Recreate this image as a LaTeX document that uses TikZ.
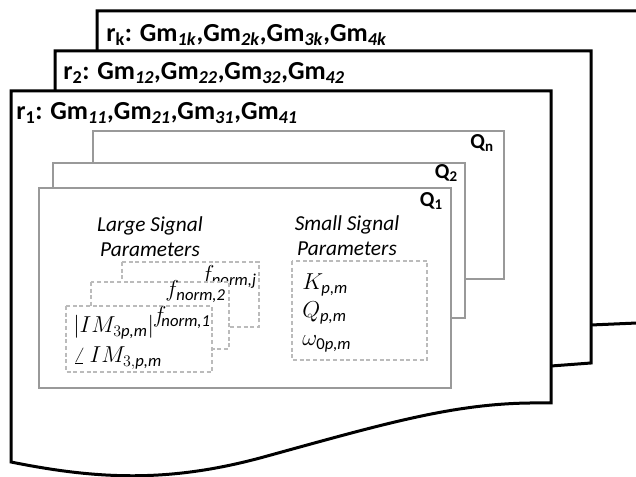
\documentclass[tikz,border=0pt]{standalone}
\usepackage{amsmath}
\usepackage{fontspec}
\setmainfont{Carlito}
\DeclareMathSizes{17}{17}{12.5}{10}
\definecolor{qgray}{HTML}{999999}
\definecolor{dgray}{HTML}{BBBBBB}
\begin{document}
\begin{tikzpicture}[x=0.75pt,y=-0.75pt,
  page/.style={draw=black,line width=2.25pt,fill=white,line join=miter},
  qbox/.style={draw=qgray,line width=1.5pt,fill=white},
  dbox/.style={draw=dgray,line width=1.1pt,fill=white,dash pattern=on 3pt off 2pt},
  title/.style={anchor=west,inner sep=0pt,font=\bfseries\fontsize{19.5}{22}\selectfont},
  qlabel/.style={anchor=north east,inner sep=0pt,font=\bfseries\fontsize{16}{19}\selectfont},
  head/.style={align=center,inner sep=0pt,font=\itshape\fontsize{16}{18.75}\selectfont},
  mathtxt/.style={inner sep=0pt,font=\fontsize{17}{20}\selectfont}]
\clip (0,0) rectangle (636,477);
\useasboundingbox (0,0) rectangle (636,477);

% stacked pages, back to front
\draw[page] (97,11) -- (660,11) -- (660,322) -- (591,325) -- (97,325) -- cycle;
\draw[page] (55,51) -- (591,51) -- (591,363) -- (551,366) -- (55,366) -- cycle;
\draw[page] (11,91) -- (551,91) -- (551,403) -- (530,403)
  .. controls (450,404) and (380,425) .. (260,458)
  .. controls (170,482) and (100,480) .. (11,462) -- cycle;

\node[title] (tk) at (106,35) {r\textsubscript{k}: Gm\textsubscript{\textit{1k}},Gm\textsubscript{\textit{2k}},Gm\textsubscript{\textit{3k}},Gm\textsubscript{\textit{4k}}};
\node[title] (t2) at (63,73) {r\textsubscript{2}: Gm\textsubscript{\textit{12}},Gm\textsubscript{\textit{22}},Gm\textsubscript{\textit{32}},Gm\textsubscript{\textit{42}}};
\node[title] (t1) at (16,113) {r\textsubscript{1}: Gm\textsubscript{\textit{11}},Gm\textsubscript{\textit{21}},Gm\textsubscript{\textit{31}},Gm\textsubscript{\textit{41}}};

% operating points
\draw[qbox] (93,131) rectangle (504,279);
\node[qlabel] (qn) at (494,134) {Q\textsubscript{n}};
\draw[qbox] (53,163) rectangle (465,318);
\node[qlabel] (q2) at (458,164) {Q\textsubscript{2}};
\draw[qbox] (39,188) rectangle (451,388);
\node[qlabel] (q1) at (443,192) {Q\textsubscript{1}};

% large signal parameters
\node[head] (ls) at (150,237) {Large Signal\\Parameters};
\draw[dbox] (122,262) rectangle (259,327);
\node[mathtxt,anchor=base east] (fj) at (257,282) {$f_{\textit{norm,j}}$};
\draw[dbox] (91,282) rectangle (229,349);
\node[mathtxt,anchor=base east] (f2) at (226,297) {$f_{\textit{norm,2}}$};
\draw[dbox] (66,306) rectangle (212,372);
\node[mathtxt,anchor=base east] (f1) at (211,323) {$f_{\!\textit{norm,1}}$};
\node[mathtxt,anchor=base west] (mag) at (73,333) {$|IM_{3\textit{p,m}}|$};
\node[mathtxt,anchor=base west] (ph) at (73,363) {$\angle\,IM_{3,\textit{p,m}}$};

% small signal parameters
\node[head] (ss) at (347,236) {Small Signal\\Parameters};
\draw[dbox] (292,261) rectangle (427,360);
\node[mathtxt,anchor=base west] (k) at (302,290) {$K_{\textit{p,m}}$};
\node[mathtxt,anchor=base west] (q) at (302,318) {$Q_{\textit{p,m}}$};
\node[mathtxt,anchor=base west] (w) at (302,346) {$\omega_{\text{0}\textit{p,m}}$};
\end{tikzpicture}
\end{document}
